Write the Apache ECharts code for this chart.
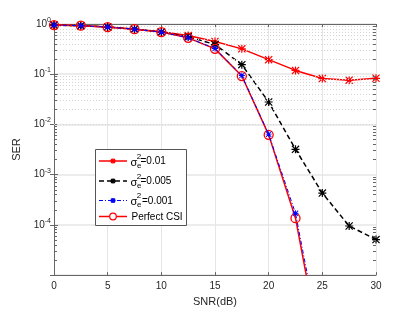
<!DOCTYPE html>
<html>
<head>
<meta charset="utf-8">
<script src="https://cdn.jsdelivr.net/npm/echarts@6/dist/echarts.min.js"></script>
<style>
html,body{margin:0;padding:0;background:#fff;}
#chart{width:415px;height:312px;}
</style>
</head>
<body>
<div id="chart"></div>
<script>
// ---- data ----
const snr = [0, 2.5, 5, 7.5, 10, 12.5, 15, 17.5, 20, 22.5, 25, 27.5, 30];
const serE01 = [0.95, 0.925, 0.87, 0.79, 0.70, 0.59, 0.45, 0.32, 0.195, 0.119, 0.082, 0.076, 0.083];
const serE005 = [0.95, 0.925, 0.87, 0.79, 0.69, 0.56, 0.39, 0.155, 0.028, 0.0032, 0.00043, 0.000095, 0.000051];
const serE001 = [0.95, 0.925, 0.87, 0.79, 0.69, 0.53, 0.325, 0.094, 0.0064, 0.00017, 0.0000003];
const serPerfect = [0.95, 0.925, 0.87, 0.79, 0.69, 0.53, 0.32, 0.092, 0.0062, 0.000136, 0.0000002];
const xTicks = [0, 5, 10, 15, 20, 25, 30];
const legendNames = ['σ_e^2=0.01', 'σ_e^2=0.005', 'σ_e^2=0.001', 'Perfect CSI'];

const yMin = 1e-5, yMax = 1;
const minorVals = [];
for (let d = -5; d <= -1; d++) {
  for (let m = 2; m <= 9; m++) minorVals.push(Number((m * Math.pow(10, d)).toPrecision(2)));
}

const ASTER = 'path://M8.5 0H11.5V20H8.5Z M0 8.5H20V11.5H0Z M0 2.1L2.1 0L20 17.9L17.9 20Z M17.9 0L20 2.1L2.1 20L0 17.9Z';
const FONT = 'Liberation Sans, Arial, sans-serif';
const AX = '#666666';
const TXT = '#262626';

function pairs(ys) { return ys.map((y, i) => [snr[i], y]); }

const chart = echarts.init(document.getElementById('chart'), null, {renderer: 'canvas'});

const grid = {left: 54, right: 39, top: 24, bottom: 35};

function legendGraphic() {
  const els = [];
  const L = 95.5, T = 149.5, W = 91, H = 76;
  els.push({type: 'rect', shape: {x: L, y: T, width: W, height: H}, style: {fill: '#fff', stroke: '#555', lineWidth: 1}, z: 100});
  const rows = [161, 181, 200.5, 216.5];
  const styles = [
    {color: '#ff0000', dash: null, lw: 1.5, mk: 'star'},
    {color: '#000000', dash: [5, 3], lw: 1.5, mk: 'star'},
    {color: '#0000ff', dash: [4, 2, 1, 2], lw: 1, mk: 'star'},
    {color: '#ff0000', dash: null, lw: 1.5, mk: 'circle'}
  ];
  rows.forEach((y, i) => {
    const s = styles[i];
    els.push({type: 'line', shape: {x1: 99, y1: y, x2: 127, y2: y}, style: {stroke: s.color, lineWidth: s.lw, lineDash: s.dash}, z: 101});
    if (s.mk === 'star') {
      const cx = 113, r = 2.6, d = 1.9;
      [[cx - r, y, cx + r, y], [cx, y - r, cx, y + r], [cx - d, y - d, cx + d, y + d], [cx - d, y + d, cx + d, y - d]].forEach(p => {
        els.push({type: 'line', shape: {x1: p[0], y1: p[1], x2: p[2], y2: p[3]}, style: {stroke: s.color, lineWidth: 1.6}, z: 102});
      });
    } else {
      els.push({type: 'circle', shape: {cx: 113, cy: y, r: 3.3}, style: {fill: '#fff', stroke: s.color, lineWidth: 1.2}, z: 102});
    }
    const nm = legendNames[i];
    if (nm.indexOf('σ') === 0) {
      const rest = nm.split('^2')[1];
      els.push({type: 'text', x: 130.5, y: y + 1.5, style: {text: 'σ', font: '11px ' + FONT, fill: '#000', verticalAlign: 'middle'}, z: 103});
      els.push({type: 'text', x: 136.8, y: y - 4.5, style: {text: '2', font: '8px ' + FONT, fill: '#000', verticalAlign: 'middle'}, z: 103});
      els.push({type: 'text', x: 137, y: y + 4.5, style: {text: 'e', font: '8px ' + FONT, fill: '#000', verticalAlign: 'middle'}, z: 103});
      els.push({type: 'text', x: i === 2 ? 142 : 140.5, y: y + 0.5, style: {text: rest, font: '10px ' + FONT, fill: '#000', verticalAlign: 'middle'}, z: 103});
    } else {
      els.push({type: 'text', x: 131.5, y: y + 0.5, style: {text: nm, font: '10px ' + FONT, fill: '#000', verticalAlign: 'middle'}, z: 103});
    }
  });
  return els;
}

const minorTickData = [];
minorVals.forEach(v => {
  minorTickData.push([{coord: [0, v]}, {coord: [0.28, v]}]);
  minorTickData.push([{coord: [29.72, v]}, {coord: [30, v]}]);
});

const option = {
  animation: false,
  backgroundColor: '#fff',
  grid: grid,
  xAxis: [{
    type: 'value', min: 0, max: 30, interval: 5, position: 'bottom',
    name: 'SNR(dB)', nameLocation: 'middle', nameGap: 20,
    nameTextStyle: {fontFamily: FONT, fontSize: 11, color: TXT},
    axisLine: {show: true, lineStyle: {color: AX, width: 1}},
    axisTick: {show: true, inside: true, length: 3, lineStyle: {color: AX}},
    axisLabel: {fontFamily: FONT, fontSize: 10, color: TXT, margin: 6,
      formatter: v => xTicks.indexOf(v) >= 0 ? String(v) : ''},
    splitLine: {show: true, lineStyle: {color: '#e6e6e6', width: 1}}
  }, {
    type: 'value', min: 0, max: 30, interval: 5, position: 'top',
    axisLine: {show: true, onZero: false, lineStyle: {color: AX, width: 1}},
    axisTick: {show: true, inside: true, length: 3, lineStyle: {color: AX}},
    axisLabel: {show: false}, splitLine: {show: false}
  }],
  yAxis: [{
    type: 'log', logBase: 10, min: yMin, max: yMax, splitNumber: 5, position: 'left',
    name: 'SER', nameLocation: 'middle', nameGap: 27, nameRotate: 90,
    nameTextStyle: {fontFamily: FONT, fontSize: 11, color: TXT},
    axisLine: {show: true, lineStyle: {color: AX, width: 1}},
    axisTick: {show: true, inside: true, length: 4, lineStyle: {color: AX}},
    axisLabel: {
      margin: 3, color: TXT,
      formatter: function (v) {
        const e = Math.round(Math.log10(v));
        if (e === -5) return '';
        return '{b|10}{s|' + e + '}';
      },
      rich: {
        b: {fontFamily: FONT, fontSize: 10, color: TXT},
        s: {fontFamily: FONT, fontSize: 7, color: TXT, padding: [0, 0, 8, 0]}
      }
    },
    splitLine: {show: true, lineStyle: {color: '#e6e6e6', width: 1.5}}
  }, {
    type: 'log', logBase: 10, min: yMin, max: yMax, splitNumber: 5, position: 'right',
    axisLine: {show: true, lineStyle: {color: AX, width: 1}},
    axisTick: {show: true, inside: true, length: 4, lineStyle: {color: AX}},
    axisLabel: {show: false}, splitLine: {show: false}
  }],
  graphic: legendGraphic(),
  series: [
    {
      name: 'minor grid', type: 'line', data: [], silent: true,
      markLine: {
        silent: true, symbol: ['none', 'none'], label: {show: false},
        lineStyle: {type: [1, 2], color: '#d4d4d4', width: 1},
        emphasis: {disabled: true},
        data: minorVals.map(v => ({yAxis: v}))
      }
    },
    {
      name: 'minor ticks', type: 'line', data: [], silent: true,
      markLine: {
        silent: true, symbol: ['none', 'none'], label: {show: false},
        lineStyle: {type: 'solid', color: AX, width: 1},
        emphasis: {disabled: true},
        data: minorTickData
      }
    },
    {
      name: legendNames[0], type: 'line', data: pairs(serE01),
      symbol: ASTER, symbolSize: 8,
      lineStyle: {color: '#ff0000', width: 1.5},
      itemStyle: {color: '#ff0000'}, z: 3
    },
    {
      name: legendNames[1], type: 'line', data: pairs(serE005),
      symbol: ASTER, symbolSize: 8,
      lineStyle: {color: '#000000', width: 1.5, type: [5, 3]},
      itemStyle: {color: '#000000'}, z: 4
    },
    {
      name: legendNames[3], type: 'line', data: pairs(serPerfect),
      symbol: 'circle', symbolSize: 9,
      lineStyle: {color: '#ff0000', width: 1.5},
      itemStyle: {color: 'rgba(0,0,0,0)', borderColor: '#ff0000', borderWidth: 1.3}, z: 5
    },
    {
      name: legendNames[2], type: 'line', data: pairs(serE001),
      symbol: ASTER, symbolSize: 6,
      lineStyle: {color: '#0000ff', width: 1, type: [4, 2, 1, 2]},
      itemStyle: {color: '#0000ff'}, z: 6
    }
  ]
};
chart.setOption(option);
</script>
</body>
</html>
